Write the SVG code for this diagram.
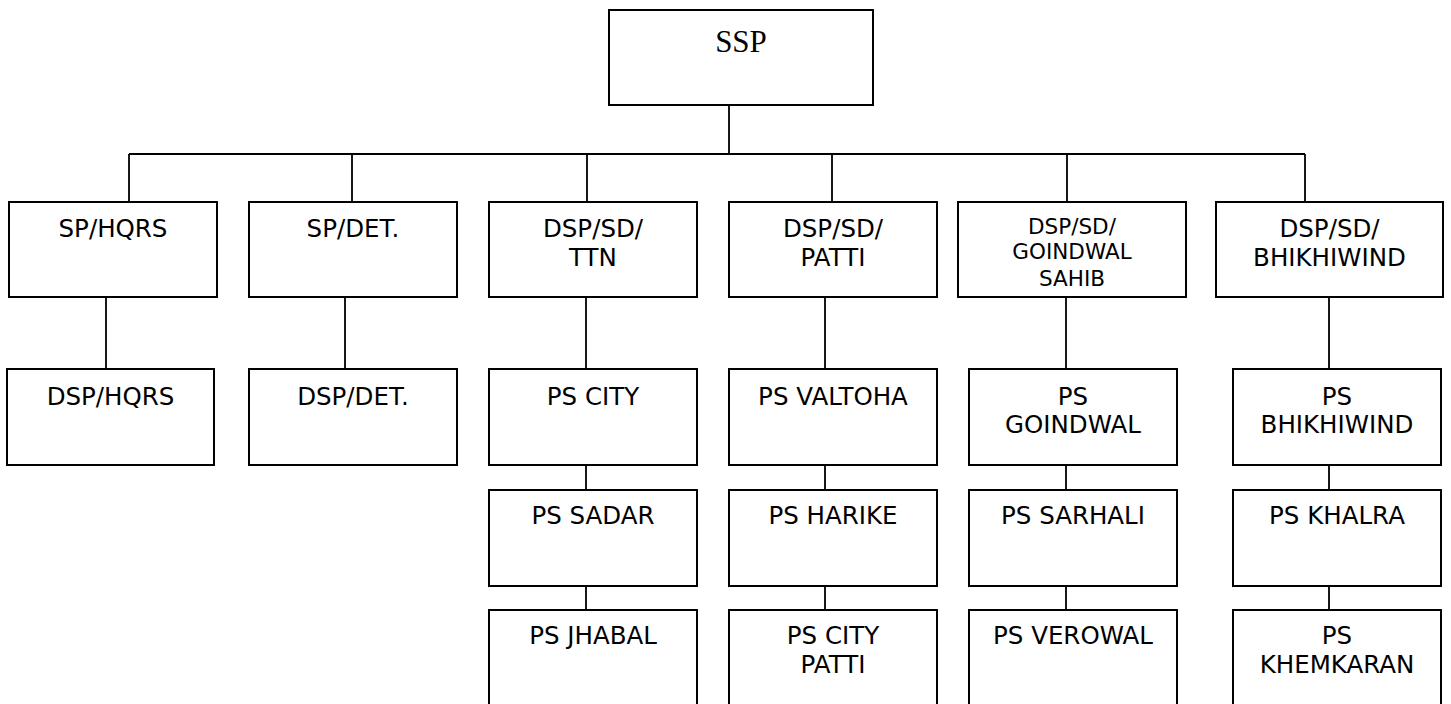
<svg xmlns="http://www.w3.org/2000/svg" width="1451" height="704" viewBox="0 0 1451 704">
<style>
.box{fill:#fff;stroke:#000;stroke-width:2}
.t{font-family:"DejaVu Sans",Verdana,sans-serif;font-size:24.5px;fill:#000;text-anchor:middle}
.s{font-size:21.5px}
.ssp{font-family:"Liberation Serif","Times New Roman",serif;font-size:31px;fill:#000;text-anchor:middle}
.c{stroke:#000;stroke-width:1.8;fill:none}
</style>
<rect width="1451" height="704" fill="#fff"/>
<g id="connectors" class="c">
<path d="M729 105V154M129 154H1305M129 154V202M352 154V202M587 154V202M832 154V202M1067 154V202M1305 154V202"/>
<path d="M106 297V369M345 297V369M586 297V369M825 297V369M1066 297V369M1329 297V369"/>
<path d="M586 465V490M825 465V490M1066 465V490M1329 465V490"/>
<path d="M586 586V610M825 586V610M1066 586V610M1329 586V610"/>
</g>
<g id="ssp"><rect class="box" x="609" y="10" width="264" height="95"/><text class="ssp" x="741" y="52">SSP</text></g>
<g id="sp-hqrs"><rect class="box" x="9" y="202" width="208" height="95"/><text class="t" x="113" y="237">SP/HQRS</text></g>
<g id="sp-det"><rect class="box" x="249" y="202" width="208" height="95"/><text class="t" x="353" y="237">SP/DET.</text></g>
<g id="dsp-ttn"><rect class="box" x="489" y="202" width="208" height="95"/><text class="t" x="593" y="237">DSP/SD/</text><text class="t" x="593" y="266">TTN</text></g>
<g id="dsp-patti"><rect class="box" x="729" y="202" width="208" height="95"/><text class="t" x="833" y="237">DSP/SD/</text><text class="t" x="833" y="266">PATTI</text></g>
<g id="dsp-goindwal"><rect class="box" x="958" y="202" width="228" height="95"/><text class="t s" x="1072" y="234">DSP/SD/</text><text class="t s" x="1072" y="259">GOINDWAL</text><text class="t s" x="1072" y="286">SAHIB</text></g>
<g id="dsp-bhikhiwind"><rect class="box" x="1216" y="202" width="227" height="95"/><text class="t" x="1329.5" y="237">DSP/SD/</text><text class="t" x="1329.5" y="266">BHIKHIWIND</text></g>
<g id="dsp-hqrs"><rect class="box" x="7" y="369" width="207" height="96"/><text class="t" x="110.5" y="405">DSP/HQRS</text></g>
<g id="dsp-det"><rect class="box" x="249" y="369" width="208" height="96"/><text class="t" x="353" y="405">DSP/DET.</text></g>
<g id="ps-city"><rect class="box" x="489" y="369" width="208" height="96"/><text class="t" x="593" y="405">PS CITY</text></g>
<g id="ps-valtoha"><rect class="box" x="729" y="369" width="208" height="96"/><text class="t" x="833" y="405">PS VALTOHA</text></g>
<g id="ps-goindwal"><rect class="box" x="969" y="369" width="208" height="96"/><text class="t" x="1073" y="405">PS</text><text class="t" x="1073" y="433">GOINDWAL</text></g>
<g id="ps-bhikhiwind"><rect class="box" x="1233" y="369" width="208" height="96"/><text class="t" x="1337" y="405">PS</text><text class="t" x="1337" y="433">BHIKHIWIND</text></g>
<g id="ps-sadar"><rect class="box" x="489" y="490" width="208" height="96"/><text class="t" x="593" y="524">PS SADAR</text></g>
<g id="ps-harike"><rect class="box" x="729" y="490" width="208" height="96"/><text class="t" x="833" y="524">PS HARIKE</text></g>
<g id="ps-sarhali"><rect class="box" x="969" y="490" width="208" height="96"/><text class="t" x="1073" y="524">PS SARHALI</text></g>
<g id="ps-khalra"><rect class="box" x="1233" y="490" width="208" height="96"/><text class="t" x="1337" y="524">PS KHALRA</text></g>
<g id="ps-jhabal"><rect class="box" x="489" y="610" width="208" height="100"/><text class="t" x="593" y="644">PS JHABAL</text></g>
<g id="ps-city-patti"><rect class="box" x="729" y="610" width="208" height="100"/><text class="t" x="833" y="644">PS CITY</text><text class="t" x="833" y="673">PATTI</text></g>
<g id="ps-verowal"><rect class="box" x="969" y="610" width="208" height="100"/><text class="t" x="1073" y="644">PS VEROWAL</text></g>
<g id="ps-khemkaran"><rect class="box" x="1233" y="610" width="208" height="100"/><text class="t" x="1337" y="644">PS</text><text class="t" x="1337" y="673">KHEMKARAN</text></g>
</svg>
